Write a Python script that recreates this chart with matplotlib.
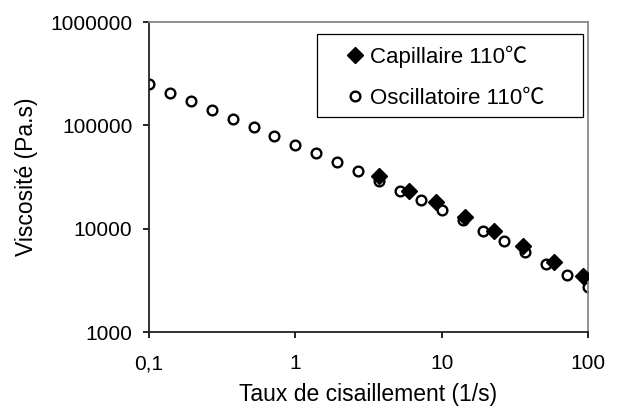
import matplotlib
matplotlib.use("Agg")
from matplotlib import pyplot as plt
from matplotlib.patches import Rectangle
from matplotlib.ticker import FixedLocator, FixedFormatter, NullLocator

# données
osc_x = [0.1, 0.139, 0.193, 0.268, 0.373, 0.518, 0.72, 1.0, 1.39, 1.93, 2.68,
         3.73, 5.18, 7.2, 10.0, 13.9, 19.3, 26.8, 37.3, 51.8, 72.0, 100.0]
osc_y = [250000, 207000, 171000, 142000, 116000, 96000, 78000, 65000, 53500, 43700, 36000,
         28700, 23400, 19000, 15200, 12000, 9570, 7530, 5890, 4540, 3550, 2740]

cap_x = [3.73, 5.98, 9.1, 14.4, 22.7, 35.9, 58.5, 92.0]
cap_y = [32000, 23400, 18300, 12900, 9420, 6840, 4790, 3500]

xticks = [0.1, 1, 10, 100]
xtick_labels = ["0,1", "1", "10", "100"]
yticks = [1000, 10000, 100000, 1000000]
ytick_labels = ["1000", "10000", "100000", "1000000"]

plt.rcParams['font.family'] = ['Liberation Sans', 'Noto Sans CJK SC', 'DejaVu Sans']

fig = plt.figure(figsize=(6.19, 4.11), dpi=100)
ax = fig.add_axes([149/619, 1-332/411, 439/619, 310/411])

ax.plot(cap_x, cap_y, linestyle='none', marker='D', ms=8, color='black',
        label="Capillaire 110℃", zorder=3)
ax.plot(osc_x, osc_y, linestyle='none', marker='o', ms=7, mfc='white', mec='black',
        mew=1.7, label="Oscillatoire 110℃", zorder=2)

ax.set_xscale('log')
ax.set_yscale('log')
ax.set_xlim(0.1, 100)
ax.set_ylim(1000, 1000000)
ax.xaxis.set_major_locator(FixedLocator(xticks))
ax.xaxis.set_major_formatter(FixedFormatter(xtick_labels))
ax.yaxis.set_major_locator(FixedLocator(yticks))
ax.yaxis.set_major_formatter(FixedFormatter(ytick_labels))
ax.xaxis.set_minor_locator(NullLocator())
ax.yaxis.set_minor_locator(NullLocator())
ax.tick_params(axis='both', which='major', labelsize=15, direction='out',
               length=4, width=1.2)
ax.tick_params(axis='x', pad=12)
ax.tick_params(axis='y', pad=8)

for side in ['left', 'bottom']:
    ax.spines[side].set_color('#222222')
    ax.spines[side].set_linewidth(1.3)
for side in ['top', 'right']:
    ax.spines[side].set_color('#888888')
    ax.spines[side].set_linewidth(1.3)

ax.set_xlabel("Taux de cisaillement (1/s)", fontsize=16.5, labelpad=7)
ax.set_ylabel("Viscosité (Pa.s)", fontsize=16.5, labelpad=9)

# cadre de la légende
ax.add_patch(Rectangle(((317-149)/439, (332-117)/310), (583-317)/439, (117-34)/310,
                       transform=ax.transAxes, facecolor='white', edgecolor='black',
                       linewidth=0.9, zorder=4))
leg = ax.legend(loc='upper left', bbox_to_anchor=((344-149)/439, (332-46)/310),
                frameon=False, fontsize=16, handlelength=1.0, handletextpad=0.15,
                borderpad=0, borderaxespad=0, labelspacing=0.9, numpoints=1)
leg.set_zorder(5)

plt.savefig("out.png", dpi=100)
